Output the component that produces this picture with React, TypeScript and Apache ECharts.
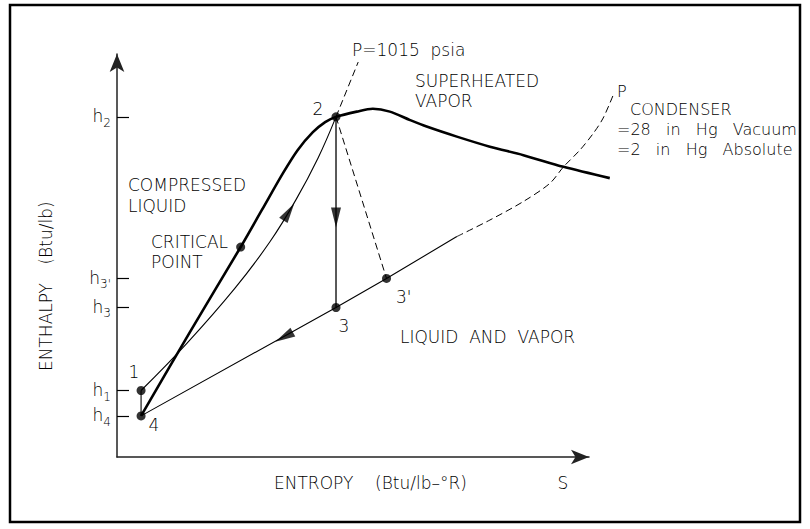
import React, { useEffect, useRef } from 'react';
import * as echarts from 'echarts';

type Pt = [number, number];

const FONT = '"DejaVu Sans", "Liberation Sans", sans-serif';
const INK = '#000';

// Visible axis ranges (entropy s, enthalpy h) in schematic units
const entropyRange: Pt = [0, 10];
const enthalpyRange: Pt = [0, 10];
// Plotting range for curves (same scale, extended to the right so curves may pass the arrow)
const entropyPlotRange: Pt = [0, 11];

// Enthalpy axis tick marks and their subscripts
const enthalpyTickValues = [1.02, 1.65, 3.71, 4.43, 8.44];
const enthalpyTickSubscripts = ['4', '1', '3', "3'", '2'];

// Saturation dome (thick curve) from point 4 through the critical point and point 2
const saturationDome: Pt[] = [
  [0.51, 1.02], [1.56, 3.13], [2.62, 5.21], [3.07, 6.13], [3.52, 7.05],
  [3.83, 7.62], [4.15, 8.06], [4.41, 8.31], [4.64, 8.44], [5.08, 8.57],
  [5.42, 8.64], [5.78, 8.57], [6.21, 8.36], [6.56, 8.2], [7.2, 7.95],
  [7.9, 7.7], [8.61, 7.49], [9.46, 7.2], [10.44, 6.92],
];

// Heat addition 1 -> 2 (thin curve)
const feedHeatingCurve: Pt[] = [
  [0.51, 1.65], [1.48, 2.82], [2.5, 4.19], [3.24, 5.34], [3.79, 6.38], [4.26, 7.42], [4.64, 8.44],
];

// Pump 4 -> 1
const pumpSegment: Pt[] = [[0.51, 1.65], [0.51, 1.02]];
// Ideal expansion 2 -> 3
const idealExpansion: Pt[] = [[4.64, 8.44], [4.64, 3.71]];
// Actual expansion 2 -> 3' (dashed)
const actualExpansion: Pt[] = [[4.64, 8.44], [5.71, 4.43]];
// P = 1015 psia isobar above point 2 (dashed)
const highPressureIsobar: Pt[] = [[4.64, 8.44], [5.11, 9.8]];
// Condenser isobar: solid part 4 - 3 - 3' and its dashed continuation
const condenserIsobarSolid: Pt[] = [[0.51, 1.02], [4.64, 3.71], [5.71, 4.43], [7.2, 5.47]];
const condenserIsobarDashed: Pt[] = [
  [7.2, 5.47], [7.9, 5.88], [8.61, 6.34], [9.17, 6.79], [9.46, 7.2],
  [9.81, 7.62], [10.09, 8.03], [10.3, 8.41], [10.53, 9.03],
];

// State points: 1, 4, 2, 3, 3', critical point
const statePoints: Pt[] = [[0.51, 1.65], [0.51, 1.02], [4.64, 8.44], [4.64, 3.71], [5.71, 4.43], [2.62, 5.21]];

// Flow direction arrows
const flowArrowPoints: Pt[] = [[3.64, 6.08], [4.64, 5.94], [3.54, 2.98]];
const flowArrowRotations = [-33, 180, 119];

export default function App() {
  const ref = useRef<HTMLDivElement>(null);

  useEffect(() => {
    const el = ref.current;
    if (!el) return;
    const chart = echarts.init(el, null, { renderer: 'svg' });

    const txt = (text: string, x: number, y: number, align = 'left', size = 17, extra: any = {}) => ({
      type: 'text',
      x,
      y,
      silent: true,
      ...extra,
      style: {
        text,
        fill: INK,
        fontSize: size,
        fontFamily: FONT,
        fontWeight: 200,
        align,
        verticalAlign: 'middle',
      },
    });

    const thin = { color: '#000', width: 1.1 };
    const dashed = { color: '#000', width: 1, type: [7, 4] };

    const lineSeries = (data: Pt[], lineStyle: any, smooth: number | boolean = false) => ({
      type: 'line',
      xAxisIndex: 1,
      yAxisIndex: 1,
      data,
      smooth,
      symbol: 'none',
      clip: false,
      silent: true,
      lineStyle,
    });

    const plotGridWidth = ((entropyPlotRange[1] - entropyPlotRange[0]) / (entropyRange[1] - entropyRange[0])) * 472;

    chart.setOption({
      animation: false,
      backgroundColor: '#fff',
      grid: [
        { left: 117, top: 54, width: 472, height: 403 },
        { left: 117, top: 54, width: plotGridWidth, height: 403 },
      ],
      xAxis: [
        {
          type: 'value',
          gridIndex: 0,
          min: entropyRange[0],
          max: entropyRange[1],
          axisLine: { show: true, symbol: ['none', 'arrow'], symbolSize: [11, 18], lineStyle: { color: '#222', width: 1.5 } },
          axisTick: { show: false },
          axisLabel: { show: false },
          splitLine: { show: false },
        },
        {
          type: 'value',
          gridIndex: 1,
          min: entropyPlotRange[0],
          max: entropyPlotRange[1],
          show: false,
          splitLine: { show: false },
        },
      ],
      yAxis: [
        {
          type: 'value',
          gridIndex: 0,
          min: enthalpyRange[0],
          max: enthalpyRange[1],
          axisLine: { show: true, symbol: ['none', 'arrow'], symbolSize: [11, 18], lineStyle: { color: '#222', width: 1.5 } },
          axisTick: {
            show: true,
            inside: true,
            length: 12,
            customValues: enthalpyTickValues,
            lineStyle: { color: '#000', width: 1.2 },
          },
          axisLabel: {
            show: true,
            margin: 6,
            customValues: enthalpyTickValues,
            formatter: (v: number) => {
              let idx = 0;
              let best = Infinity;
              enthalpyTickValues.forEach((t, i) => {
                const d = Math.abs(t - v);
                if (d < best) { best = d; idx = i; }
              });
              return `{h|h}{s|${enthalpyTickSubscripts[idx]}}`;
            },
            rich: {
              h: { fontSize: 17, fontFamily: FONT, fontWeight: 200, color: INK, lineHeight: 18, verticalAlign: 'top' },
              s: { fontSize: 12, fontFamily: FONT, fontWeight: 200, color: INK, lineHeight: 14, padding: [9, 0, 0, 0], verticalAlign: 'top' },
            },
          },
          splitLine: { show: false },
        },
        {
          type: 'value',
          gridIndex: 1,
          min: enthalpyRange[0],
          max: enthalpyRange[1],
          show: false,
          splitLine: { show: false },
        },
      ],
      graphic: [
        {
          type: 'rect',
          silent: true,
          shape: { x: 10, y: 5, width: 790, height: 517 },
          style: { fill: 'none', stroke: '#000', lineWidth: 2.5 },
        },
        txt('P=1015  psia', 352, 50),
        txt('SUPERHEATED', 415, 81),
        txt('VAPOR', 415, 101),
        txt('COMPRESSED', 128, 185),
        txt('LIQUID', 128, 206),
        txt('CRITICAL', 151, 242),
        txt('POINT', 151, 262),
        txt('LIQUID  AND  VAPOR', 400, 337),
        txt('2', 318, 109, 'center'),
        txt('3', 344, 326, 'center'),
        txt("3'", 396, 297),
        txt('1', 134, 372, 'center'),
        txt('4', 154, 425, 'center'),
        txt('P', 617, 91, 'left', 16),
        txt('CONDENSER', 630, 109, 'left', 16),
        txt('=28   in   Hg   Vacuum', 617, 129, 'left', 16),
        txt('=2   in   Hg   Absolute', 617, 149, 'left', 16),
        txt('ENTROPY', 274, 483),
        txt('(Btu/lb–°R)', 375, 483),
        txt('S', 563, 483, 'center'),
        txt('ENTHALPY', 46, 327, 'center', 17, { rotation: Math.PI / 2 }),
        txt('(Btu/lb)', 46, 233, 'center', 17, { rotation: Math.PI / 2 }),
      ],
      series: [
        { ...lineSeries(saturationDome, { color: '#000', width: 2.6 }, 0.3), z: 3 },
        lineSeries(feedHeatingCurve, thin, 0.4),
        lineSeries(pumpSegment, thin),
        lineSeries(idealExpansion, { color: '#000', width: 1.3 }),
        lineSeries(actualExpansion, dashed),
        lineSeries(highPressureIsobar, dashed),
        lineSeries(condenserIsobarSolid, thin),
        lineSeries(condenserIsobarDashed, dashed, 0.3),
        {
          type: 'scatter',
          xAxisIndex: 1,
          yAxisIndex: 1,
          data: statePoints,
          symbol: 'circle',
          symbolSize: 9,
          silent: true,
          clip: false,
          z: 5,
          itemStyle: { color: '#000' },
        },
        {
          type: 'scatter',
          xAxisIndex: 1,
          yAxisIndex: 1,
          data: flowArrowPoints.map((p, i) => ({ value: p, symbolRotate: flowArrowRotations[i] })),
          symbol: 'path://M5,0 L10,20 L0,20 Z',
          symbolSize: [10, 20],
          symbolKeepAspect: false,
          silent: true,
          z: 5,
          itemStyle: { color: '#000' },
        },
      ],
    });

    return () => chart.dispose();
  }, []);

  return (
    <div
      ref={ref}
      style={{ position: 'absolute', left: 0, top: 0, width: 810, height: 529, background: '#fff' }}
    />
  );
}
